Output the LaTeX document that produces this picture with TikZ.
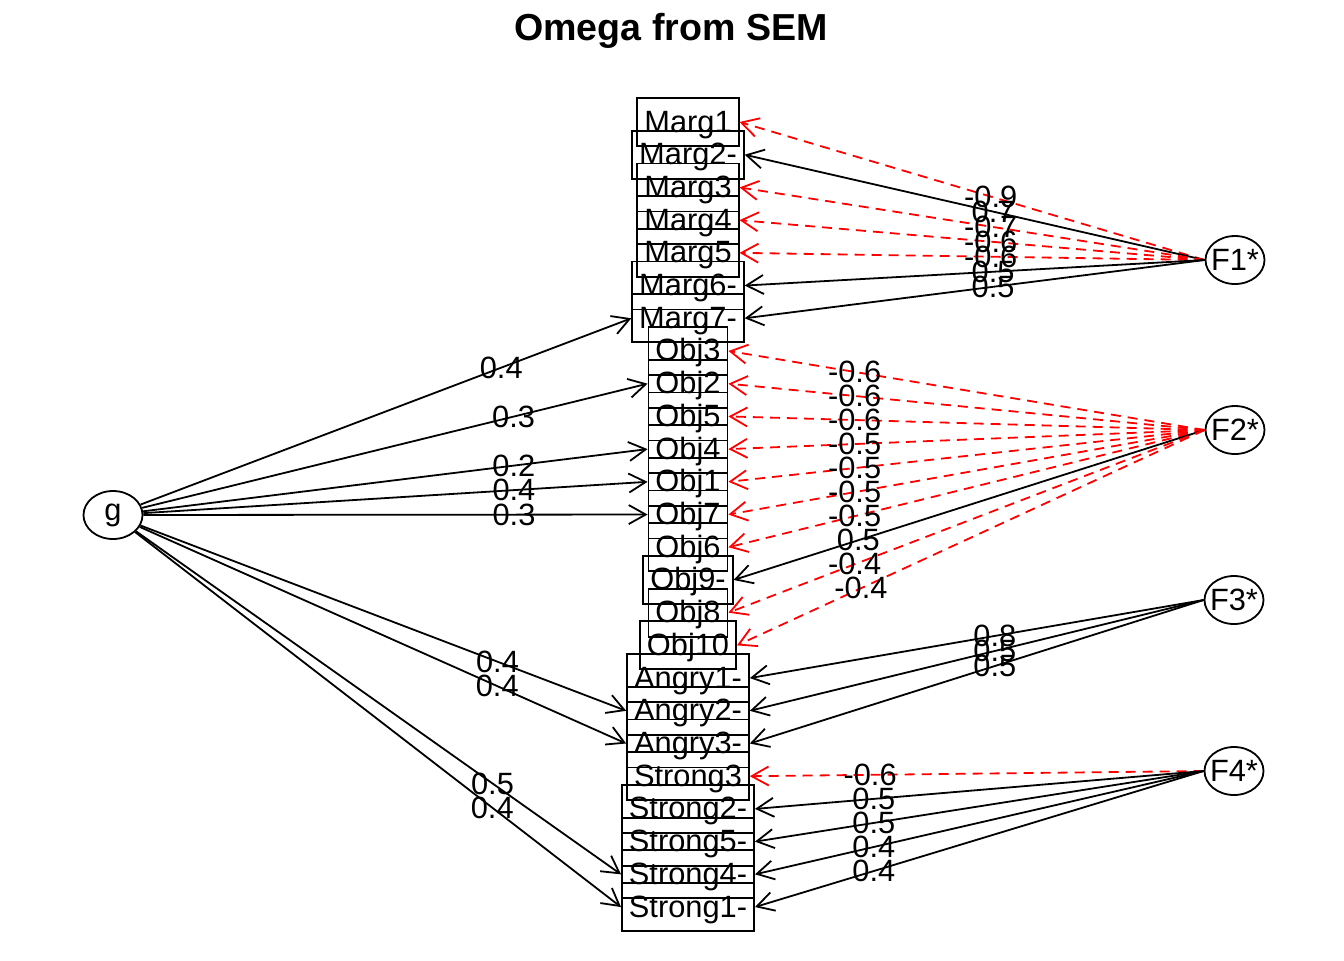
\documentclass[tikz,border=0pt]{standalone}
\usepackage{fontspec}
\setmainfont{Liberation Sans}
\usetikzlibrary{arrows.meta,shapes.geometric}

\tikzset{
  itembox/.style={draw,rectangle,line width=0.9pt,minimum height=24pt,inner xsep=3.5pt,inner ysep=0pt,
    text height=12pt,text depth=2pt,font=\fontsize{15.4}{18}\selectfont},
  latent/.style={draw,ellipse,line width=0.9pt,minimum width=29.5pt,minimum height=24pt,inner sep=-2.5pt,
    font=\fontsize{15.4}{18}\selectfont},
  posload/.style={draw,line width=0.9pt,-{Straight Barb[length=8.5pt,width=9.5pt]}},
  negload/.style={posload,red,dash pattern=on 5pt off 3.5pt},
  lbl/.style={inner sep=0pt,text=black,font=\fontsize{15.4}{18}\selectfont}
}

\begin{document}
\begin{tikzpicture}[x=0.5pt,y=-0.5pt]
\useasboundingbox (0,0) rectangle (1344,960);
\node[font=\bfseries\fontsize{18.8}{22}\selectfont] (Title) at (671,31) {Omega from SEM}; % the title

% observed variables
\foreach \nm/\txt [count=\i] in {m1/Marg1,m2/Marg2-,m3/Marg3,m4/Marg4,m5/Marg5,m6/Marg6-,m7/Marg7-,
  o3/Obj3,o2/Obj2,o5/Obj5,o4/Obj4,o1/Obj1,o7/Obj7,o6/Obj6,o9/Obj9-,o8/Obj8,o10/Obj10,
  a1/Angry1-,a2/Angry2-,a3/Angry3-,s3/Strong3,s2/Strong2-,s5/Strong5-,s4/Strong4-,s1/Strong1-}
  \node[itembox] (\nm) at (688,{122+32.71*(\i-1)}) {\txt};

% factors
\node[latent] (g) at (113,515) {g};
\node[latent] (F1) at (1235,260) {F1*};
\node[latent] (F2) at (1235,430) {F2*};
\node[latent] (F3) at (1234,600) {F3*};
\node[latent] (F4) at (1234,771) {F4*};

% general factor
\foreach \nm/\val in {m7/0.4,o2/0.3,o4/0.2,o1/0.4,o7/0.3,a2/0.4,a3/0.4,s4/0.5,s1/0.4}
  \draw[posload] (g) -- node[lbl,pos=.735]{\val} (\nm.west);

% group factors
\foreach \nm/\val/\sty in {m1/-0.9/negload,m2/0.7/posload,m3/-0.7/negload,m4/-0.6/negload,m5/-0.6/negload,m6/0.5/posload,m7/0.5/posload}
  \draw[\sty] (F1.west) -- node[lbl,pos=.46]{\val} (\nm.east);
\foreach \nm/\val/\sty in {o3/-0.6/negload,o2/-0.6/negload,o5/-0.6/negload,o4/-0.5/negload,o1/-0.5/negload,o7/-0.5/negload,o6/-0.5/negload,o9/0.5/posload,o8/-0.4/negload,o10/-0.4/negload}
  \draw[\sty] (F2.west) -- node[lbl,pos=.735]{\val} (\nm.east);
\foreach \nm/\val in {a1/0.8,a2/0.5,a3/0.5}
  \draw[posload] (F3.west) -- node[lbl,pos=.46]{\val} (\nm.east);
\foreach \nm/\val/\sty in {s3/-0.6/negload,s2/0.5/posload,s5/0.5/posload,s4/0.4/posload,s1/0.4/posload}
  \draw[\sty] (F4.west) -- node[lbl,pos=.735]{\val} (\nm.east);
\end{tikzpicture}
\end{document}
